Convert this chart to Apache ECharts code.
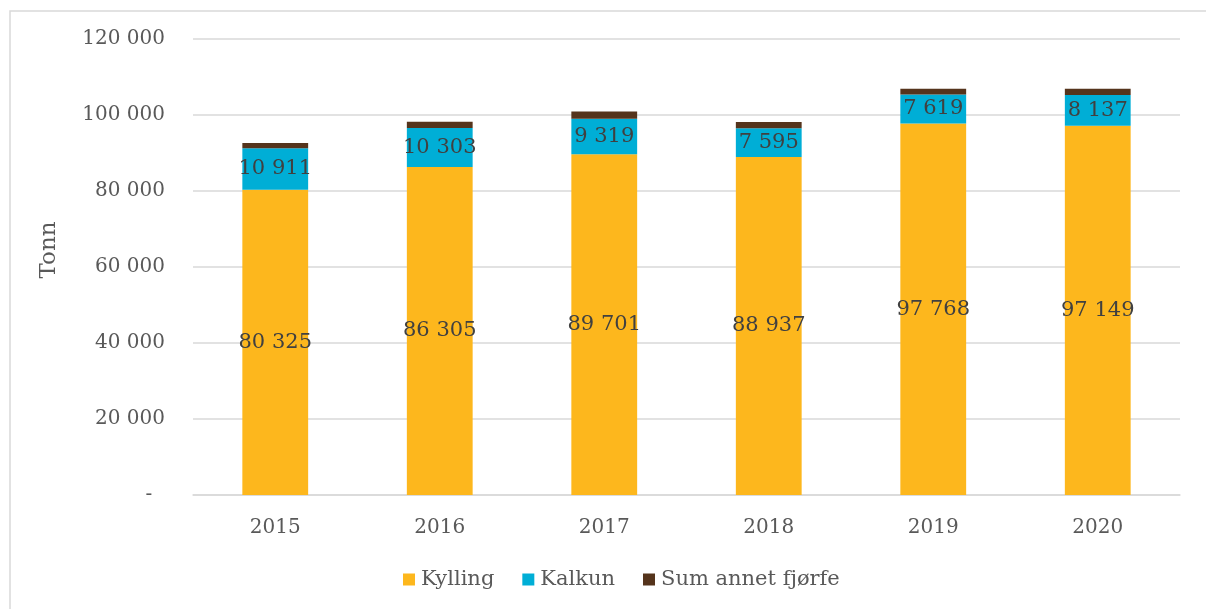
<!DOCTYPE html>
<html>
<head>
<meta charset="utf-8">
<script src="https://cdn.jsdelivr.net/npm/echarts@6/dist/echarts.min.js"></script>
<style>
  html, body { margin: 0; padding: 0; background: #fff; }
  #main { width: 1206px; height: 609px; }
</style>
</head>
<body>
<div id="main"></div>
<script>
const years = ["2015", "2016", "2017", "2018", "2019", "2020"];
const kylling = [80325, 86305, 89701, 88937, 97768, 97149];
const kalkun = [10911, 10303, 9319, 7595, 7619, 8137];
const annet = [1400, 1600, 1900, 1600, 1500, 1600];
const yTicks = [0, 20000, 40000, 60000, 80000, 100000, 120000];

const serif = "Georgia, 'DejaVu Serif', serif";

function fmt(v) {
    if (v === 0) return "-  ";
    return String(v).replace(/\B(?=(\d{3})+(?!\d))/g, " ");
}

let chart = echarts.init(document.getElementById("main"));

let labelStyle = {
    show: true,
    position: "inside",
    color: "#404040",
    fontFamily: serif,
    fontSize: 21,
    formatter: (p) => fmt(p.value),
};

let option = {
    animation: false,
    textStyle: { fontFamily: serif },
    graphic: [
        {
            type: "rect",
            shape: { x: 10, y: 11, width: 1220, height: 620 },
            style: { fill: "none", stroke: "#d9d9d9", lineWidth: 1.5 },
            silent: true,
        },
    ],
    grid: { left: 193, right: 26, top: 39, bottom: 114 },
    legend: {
        bottom: 14,
        left: 398,
        itemWidth: 12,
        itemHeight: 12,
        itemGap: 28,
        icon: "rect",
        textStyle: { fontFamily: serif, fontSize: 21, color: "#595959", padding: [0, 0, 0, 1] },
        data: ["Kylling", "Kalkun", "Sum annet fjørfe"],
    },
    xAxis: {
        type: "category",
        data: years,
        axisTick: { show: false },
        axisLine: { lineStyle: { color: "#d9d9d9", width: 1.5 } },
        axisLabel: { color: "#595959", fontSize: 20, fontFamily: serif, margin: 23 },
    },
    yAxis: {
        type: "value",
        min: yTicks[0],
        max: yTicks[yTicks.length - 1],
        interval: 20000,
        name: "Tonn",
        nameLocation: "middle",
        nameGap: 132,
        nameTextStyle: { color: "#595959", fontSize: 23, fontFamily: serif, padding: [0, 0, 0, 34] },
        axisLine: { show: false },
        axisTick: { show: false },
        splitLine: { lineStyle: { color: "#d9d9d9", width: 1.5 } },
        axisLabel: { color: "#595959", fontSize: 20, fontFamily: serif, margin: 28, formatter: fmt },
    },
    series: [
        {
            name: "Kylling",
            type: "bar",
            stack: "total",
            barWidth: "40%",
            data: kylling,
            itemStyle: { color: "#fdb71d" },
            label: labelStyle,
        },
        {
            name: "Kalkun",
            type: "bar",
            stack: "total",
            data: kalkun,
            itemStyle: { color: "#00aed6" },
            label: labelStyle,
        },
        {
            name: "Sum annet fjørfe",
            type: "bar",
            stack: "total",
            data: annet,
            itemStyle: { color: "#55341c" },
        },
    ],
};

chart.setOption(option);
</script>
</body>
</html>
